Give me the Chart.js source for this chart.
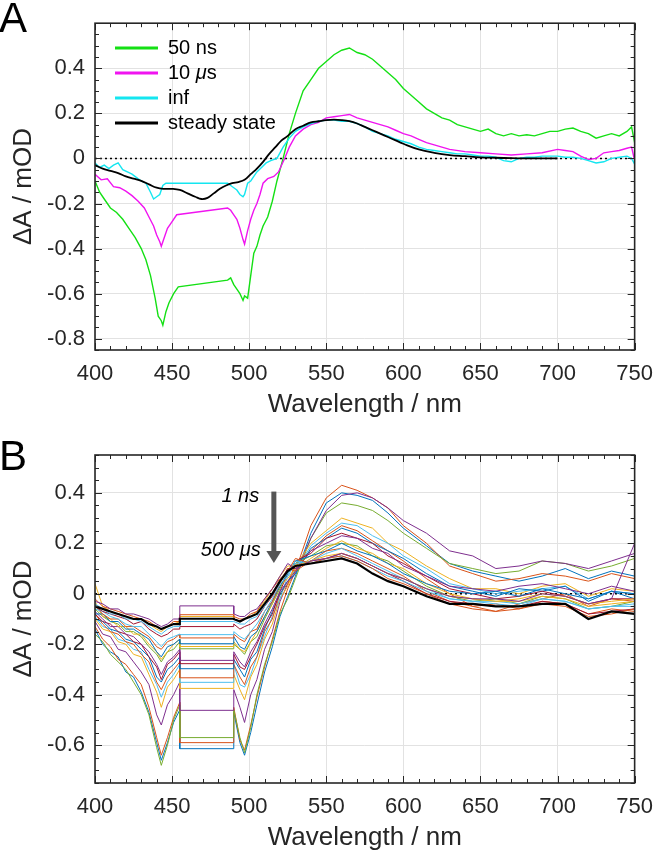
<!DOCTYPE html>
<html>
<head>
<meta charset="utf-8">
<script src="https://cdn.jsdelivr.net/npm/chart.js@4.4.1/dist/chart.umd.min.js"></script>
<style>
  html, body { margin: 0; padding: 0; background: #fff; }
  #wrap { position: relative; width: 664px; height: 853px; }
  canvas { position: absolute; left: 0; }
  #chartA { top: 0; }
  #chartB { top: 430px; }
</style>
</head>
<body>
<div id="wrap">
  <canvas id="chartA" width="664" height="430"></canvas>
  <canvas id="chartB" width="664" height="423"></canvas>
</div>
<script>
// ---- Panel A: transient spectra vs steady state ----
const wl50ns = [400, 403, 406, 410, 414, 418, 422, 426, 430, 433, 436, 439, 441, 443, 444, 446, 448, 451, 454, 486, 488, 490, 492, 494, 496, 497, 499, 501, 503, 505, 507, 509, 512, 515, 518, 522, 526, 530, 535, 540, 545, 550, 555, 560, 565, 570, 575, 580, 585, 590, 595, 600, 605, 610, 615, 620, 625, 630, 635, 640, 645, 650, 655, 660, 665, 670, 675, 680, 685, 690, 695, 700, 705, 710, 715, 720, 725, 730, 735, 740, 745, 748, 750];
const dA50ns = [-0.10, -0.15, -0.18, -0.22, -0.24, -0.27, -0.31, -0.35, -0.40, -0.45, -0.52, -0.62, -0.70, -0.72, -0.74, -0.68, -0.64, -0.60, -0.57, -0.54, -0.53, -0.56, -0.58, -0.60, -0.63, -0.61, -0.62, -0.52, -0.42, -0.39, -0.34, -0.30, -0.26, -0.19, -0.10, 0.00, 0.11, 0.20, 0.30, 0.35, 0.40, 0.43, 0.46, 0.48, 0.49, 0.47, 0.46, 0.44, 0.41, 0.38, 0.35, 0.31, 0.28, 0.25, 0.22, 0.20, 0.18, 0.17, 0.15, 0.14, 0.13, 0.12, 0.13, 0.11, 0.10, 0.11, 0.10, 0.105, 0.10, 0.11, 0.12, 0.12, 0.13, 0.135, 0.12, 0.11, 0.09, 0.10, 0.11, 0.10, 0.12, 0.14, 0.07];

const wl10us = [400, 404, 408, 412, 416, 420, 424, 428, 432, 435, 438, 440, 442, 443, 445, 447, 450, 453, 486, 488, 490, 492, 494, 496, 497, 499, 501, 503, 505, 507, 509, 512, 516, 519, 523, 526, 530, 535, 540, 545, 550, 555, 560, 565, 570, 575, 580, 585, 590, 595, 600, 605, 610, 615, 620, 625, 630, 640, 650, 660, 670, 680, 690, 700, 705, 710, 715, 720, 725, 730, 735, 740, 745, 748, 750];
const dA10us = [-0.07, -0.095, -0.09, -0.125, -0.13, -0.145, -0.165, -0.19, -0.22, -0.26, -0.30, -0.34, -0.37, -0.39, -0.35, -0.31, -0.28, -0.25, -0.22, -0.23, -0.25, -0.27, -0.31, -0.36, -0.38, -0.32, -0.27, -0.23, -0.20, -0.16, -0.11, -0.09, -0.08, -0.06, 0.0, 0.05, 0.10, 0.13, 0.15, 0.16, 0.18, 0.185, 0.19, 0.195, 0.18, 0.17, 0.16, 0.15, 0.14, 0.125, 0.11, 0.10, 0.085, 0.07, 0.06, 0.05, 0.04, 0.03, 0.025, 0.02, 0.015, 0.02, 0.025, 0.04, 0.035, 0.03, 0.01, -0.005, 0.0, 0.025, 0.03, 0.035, 0.045, 0.05, -0.01];

const wlInf = [400, 403, 406, 409, 412, 415, 418, 421, 424, 427, 430, 433, 436, 438, 440, 442, 444, 446, 486, 488, 490, 492, 494, 496, 497, 499, 501, 503, 505, 508, 511, 514, 518, 522, 526, 530, 535, 540, 545, 550, 555, 560, 565, 570, 575, 580, 585, 590, 595, 600, 605, 610, 615, 620, 625, 630, 635, 640, 645, 650, 655, 660, 665, 670, 675, 680, 685, 690, 695, 700, 705, 710, 715, 720, 725, 730, 735, 740, 745, 748, 750];
const dAInf = [-0.02, -0.04, -0.03, -0.045, -0.03, -0.02, -0.05, -0.06, -0.07, -0.085, -0.10, -0.11, -0.15, -0.18, -0.17, -0.16, -0.12, -0.11, -0.11, -0.12, -0.13, -0.14, -0.16, -0.17, -0.16, -0.11, -0.10, -0.08, -0.06, -0.04, -0.02, -0.01, 0.0, 0.05, 0.09, 0.12, 0.14, 0.155, 0.165, 0.17, 0.17, 0.165, 0.165, 0.155, 0.14, 0.12, 0.11, 0.10, 0.085, 0.075, 0.065, 0.05, 0.04, 0.035, 0.03, 0.025, 0.02, 0.02, 0.015, 0.01, 0.01, 0.005, -0.01, -0.015, 0.0, 0.005, 0.005, 0.01, 0.01, 0.01, 0.005, 0.005, 0.0, -0.01, -0.02, -0.015, 0.0, 0.005, 0.01, 0.0, -0.025];

const wlSteady = [400, 405, 410, 415, 420, 425, 430, 435, 440, 445, 450, 455, 460, 465, 469, 473, 477, 481, 485, 489, 493, 497, 501, 505, 509, 513, 517, 521, 525, 530, 535, 540, 545, 550, 555, 560, 565, 570, 575, 580, 585, 590, 595, 600, 610, 620, 630, 640, 650, 660, 670, 680, 690, 700];
const dASteady = [-0.03, -0.045, -0.055, -0.065, -0.08, -0.09, -0.10, -0.115, -0.13, -0.135, -0.135, -0.14, -0.155, -0.17, -0.18, -0.175, -0.155, -0.135, -0.12, -0.11, -0.105, -0.095, -0.07, -0.045, -0.015, 0.02, 0.05, 0.08, 0.10, 0.13, 0.145, 0.16, 0.165, 0.17, 0.172, 0.17, 0.165, 0.155, 0.14, 0.125, 0.11, 0.095, 0.08, 0.065, 0.04, 0.025, 0.015, 0.01, 0.005, 0.003, 0.001, 0.0, 0.0, 0.0];

// ---- Panel B: time series 1 ns -> 500 us ----
const wlB = [400, 405, 410, 415, 420, 425, 430, 435, 440, 443, 447, 451, 455, 455, 490, 490, 494, 497, 501, 505, 510, 515, 520, 525, 530, 540, 550, 560, 570, 580, 590, 600, 615, 630, 645, 660, 675, 690, 705, 720, 735, 750];
const trB01 = [-0.14, -0.20, -0.23, -0.25, -0.31, -0.33, -0.39, -0.47, -0.59, -0.66, -0.59, -0.51, -0.46, -0.614, -0.614, -0.47, -0.59, -0.64, -0.55, -0.44, -0.31, -0.21, -0.09, -0.01, 0.07, 0.24, 0.36, 0.40, 0.39, 0.37, 0.32, 0.26, 0.19, 0.12, 0.09, 0.07, 0.05, 0.07, 0.10, 0.06, 0.09, 0.07];
const trB02 = [-0.13, -0.18, -0.21, -0.26, -0.28, -0.32, -0.36, -0.45, -0.57, -0.64, -0.57, -0.49, -0.43, -0.59, -0.59, -0.45, -0.58, -0.62, -0.52, -0.41, -0.29, -0.18, -0.07, 0.02, 0.09, 0.27, 0.38, 0.43, 0.41, 0.38, 0.34, 0.27, 0.20, 0.11, 0.08, 0.05, 0.06, 0.08, 0.07, 0.05, 0.08, 0.06];
const trB03 = [-0.16, -0.19, -0.24, -0.27, -0.30, -0.35, -0.40, -0.48, -0.61, -0.68, -0.60, -0.50, -0.44, -0.57, -0.57, -0.46, -0.57, -0.63, -0.53, -0.40, -0.28, -0.19, -0.08, -0.02, 0.06, 0.22, 0.32, 0.36, 0.35, 0.33, 0.29, 0.24, 0.18, 0.12, 0.10, 0.08, 0.09, 0.13, 0.12, 0.09, 0.11, 0.14];
const trB04 = [-0.11, -0.16, -0.17, -0.22, -0.23, -0.27, -0.31, -0.36, -0.48, -0.52, -0.44, -0.40, -0.35, -0.462, -0.462, -0.38, -0.45, -0.51, -0.40, -0.34, -0.22, -0.15, -0.03, 0.04, 0.08, 0.22, 0.33, 0.39, 0.40, 0.38, 0.34, 0.29, 0.24, 0.17, 0.15, 0.10, 0.11, 0.13, 0.12, 0.10, 0.13, 0.16];
const trB05 = [-0.10, -0.14, -0.15, -0.19, -0.20, -0.24, -0.25, -0.32, -0.39, -0.45, -0.37, -0.34, -0.30, -0.375, -0.375, -0.32, -0.38, -0.42, -0.33, -0.28, -0.18, -0.12, -0.02, 0.03, 0.11, 0.20, 0.25, 0.30, 0.28, 0.26, 0.20, 0.17, 0.11, 0.06, 0.02, 0.02, 0.00, 0.03, 0.04, -0.01, 0.02, 0.01];
const trB06 = [-0.09, -0.13, -0.14, -0.18, -0.19, -0.22, -0.23, -0.30, -0.36, -0.41, -0.35, -0.32, -0.28, -0.351, -0.351, -0.28, -0.36, -0.37, -0.32, -0.25, -0.17, -0.09, -0.02, 0.07, 0.09, 0.19, 0.24, 0.28, 0.27, 0.23, 0.20, 0.15, 0.10, 0.04, 0.02, 0.00, 0.01, 0.02, 0.03, -0.02, 0.01, 0.00];
const trB07 = [-0.08, -0.12, -0.15, -0.16, -0.19, -0.20, -0.24, -0.27, -0.35, -0.38, -0.33, -0.30, -0.27, -0.333, -0.333, -0.28, -0.33, -0.36, -0.29, -0.25, -0.15, -0.10, 0.00, 0.04, 0.12, 0.17, 0.23, 0.27, 0.25, 0.21, 0.17, 0.13, 0.06, 0.00, -0.05, -0.07, -0.04, -0.02, 0.00, -0.05, -0.02, -0.03];
const trB08 = [-0.10, -0.11, -0.14, -0.15, -0.18, -0.19, -0.22, -0.25, -0.33, -0.35, -0.30, -0.28, -0.25, -0.297, -0.297, -0.26, -0.30, -0.33, -0.26, -0.23, -0.14, -0.07, 0.00, 0.05, 0.08, 0.18, 0.22, 0.26, 0.24, 0.20, 0.17, 0.14, 0.08, 0.03, 0.01, -0.01, 0.02, 0.01, 0.03, -0.03, 0.01, -0.02];
const trB09 = [-0.08, -0.11, -0.12, -0.15, -0.16, -0.19, -0.20, -0.25, -0.29, -0.34, -0.28, -0.26, -0.23, -0.277, -0.277, -0.24, -0.29, -0.30, -0.25, -0.20, -0.13, -0.08, 0.01, 0.08, 0.13, 0.16, 0.22, 0.24, 0.22, 0.20, 0.15, 0.12, 0.07, 0.02, 0.00, -0.02, -0.01, 0.01, -0.01, -0.04, -0.02, -0.02];
const trB10 = [-0.07, -0.10, -0.13, -0.13, -0.16, -0.17, -0.20, -0.23, -0.28, -0.32, -0.27, -0.25, -0.22, -0.264, -0.264, -0.23, -0.27, -0.29, -0.23, -0.19, -0.12, -0.06, 0.01, 0.05, 0.09, 0.17, 0.20, 0.23, 0.22, 0.18, 0.16, 0.11, 0.07, 0.03, 0.02, 0.01, 0.03, 0.04, 0.02, 0.00, 0.03, 0.01];
const trB11 = [-0.06, -0.09, -0.11, -0.12, -0.15, -0.15, -0.17, -0.21, -0.24, -0.27, -0.23, -0.22, -0.19, -0.218, -0.218, -0.20, -0.22, -0.24, -0.19, -0.17, -0.10, -0.04, 0.02, 0.09, 0.12, 0.15, 0.19, 0.20, 0.19, 0.15, 0.13, 0.09, 0.03, -0.01, -0.03, -0.02, -0.04, -0.01, -0.02, -0.06, -0.05, -0.03];
const trB12 = [-0.03, -0.09, -0.10, -0.13, -0.13, -0.16, -0.16, -0.20, -0.23, -0.26, -0.23, -0.20, -0.18, -0.209, -0.209, -0.19, -0.22, -0.23, -0.19, -0.15, -0.09, -0.04, 0.03, 0.06, 0.10, 0.14, 0.18, 0.21, 0.18, 0.16, 0.12, 0.10, 0.04, 0.00, -0.02, -0.03, -0.02, 0.00, -0.01, -0.04, -0.03, -0.02];
const trB13 = [-0.08, -0.08, -0.11, -0.11, -0.14, -0.14, -0.16, -0.18, -0.23, -0.25, -0.21, -0.20, -0.18, -0.198, -0.198, -0.17, -0.21, -0.22, -0.17, -0.15, -0.09, -0.03, 0.03, 0.08, 0.13, 0.15, 0.17, 0.20, 0.17, 0.15, 0.12, 0.08, 0.04, 0.01, 0.00, 0.01, -0.01, 0.02, 0.00, -0.02, 0.01, 0.00];
const trB14 = [-0.05, -0.08, -0.10, -0.10, -0.13, -0.13, -0.15, -0.17, -0.21, -0.22, -0.19, -0.18, -0.16, -0.175, -0.175, -0.16, -0.18, -0.19, -0.15, -0.14, -0.07, -0.03, 0.04, 0.10, 0.09, 0.13, 0.17, 0.18, 0.16, 0.13, 0.10, 0.07, 0.01, -0.03, -0.05, -0.04, -0.06, -0.03, -0.04, -0.08, -0.06, -0.07];
const trB15 = [-0.06, -0.07, -0.09, -0.10, -0.12, -0.13, -0.13, -0.16, -0.19, -0.21, -0.18, -0.17, -0.16, -0.162, -0.162, -0.15, -0.17, -0.18, -0.15, -0.12, -0.07, -0.02, 0.04, 0.07, 0.12, 0.13, 0.16, 0.18, 0.15, 0.12, 0.09, 0.06, 0.02, -0.02, -0.03, -0.03, -0.04, -0.02, -0.03, -0.06, -0.05, -0.04];
const trB16 = [-0.05, -0.07, -0.08, -0.09, -0.10, -0.12, -0.11, -0.14, -0.16, -0.17, -0.16, -0.14, -0.14, -0.13, -0.13, -0.12, -0.14, -0.13, -0.12, -0.10, -0.05, -0.01, 0.05, 0.10, 0.10, 0.13, 0.14, 0.16, 0.14, 0.11, 0.08, 0.05, 0.00, -0.03, -0.04, -0.05, -0.05, -0.03, -0.04, -0.08, -0.07, -0.06];
const trB17 = [-0.04, -0.06, -0.08, -0.08, -0.10, -0.10, -0.11, -0.13, -0.15, -0.16, -0.14, -0.13, -0.13, -0.11, -0.11, -0.11, -0.12, -0.12, -0.10, -0.09, -0.05, 0.00, 0.05, 0.08, 0.13, 0.12, 0.14, 0.15, 0.13, 0.10, 0.07, 0.05, 0.01, -0.02, -0.03, -0.04, -0.05, -0.02, -0.03, -0.06, -0.05, -0.05];
const trB18 = [0.04, -0.05, -0.07, -0.08, -0.09, -0.10, -0.10, -0.12, -0.14, -0.15, -0.13, -0.12, -0.11, -0.09, -0.09, -0.10, -0.11, -0.10, -0.09, -0.07, -0.03, 0.02, 0.07, 0.11, 0.11, 0.13, 0.15, 0.16, 0.14, 0.11, 0.08, 0.06, 0.02, -0.01, -0.02, -0.03, -0.03, -0.01, -0.02, -0.05, -0.04, -0.03];
const trB19 = [-0.02, -0.05, -0.06, -0.07, -0.08, -0.09, -0.10, -0.11, -0.13, -0.14, -0.13, -0.11, -0.11, -0.083, -0.083, -0.09, -0.10, -0.10, -0.08, -0.07, -0.02, 0.02, 0.06, 0.09, 0.14, 0.12, 0.14, 0.15, 0.13, 0.10, 0.06, 0.04, 0.00, -0.04, -0.06, -0.07, -0.06, -0.04, -0.05, -0.09, -0.08, -0.06];
const trB20 = [-0.03, -0.04, -0.06, -0.06, -0.08, -0.08, -0.09, -0.10, -0.12, -0.13, -0.12, -0.10, -0.10, -0.048, -0.048, -0.08, -0.09, -0.09, -0.07, -0.06, -0.02, 0.02, 0.07, 0.12, 0.10, 0.13, 0.14, 0.16, 0.14, 0.11, 0.08, 0.06, 0.02, -0.01, -0.02, -0.02, -0.03, 0.00, -0.01, -0.04, -0.02, 0.20];
const trB500us = [-0.05, -0.06, -0.07, -0.08, -0.09, -0.10, -0.10, -0.12, -0.13, -0.14, -0.13, -0.12, -0.12, -0.099, -0.099, -0.10, -0.11, -0.10, -0.09, -0.08, -0.04, 0.00, 0.05, 0.09, 0.11, 0.12, 0.13, 0.14, 0.12, 0.08, 0.05, 0.03, -0.01, -0.04, -0.04, -0.05, -0.05, -0.04, -0.04, -0.10, -0.07, -0.08];

const xTicks = [400, 450, 500, 550, 600, 650, 700, 750];
const yTicksA = [-0.8, -0.6, -0.4, -0.2, 0, 0.2, 0.4];
const yTicksB = [-0.6, -0.4, -0.2, 0, 0.2, 0.4];

// matlab default line colours, cycled over the B traces
const colorsB = ['#0072BD', '#D95319', '#77AC30', '#7E2F8E', '#EDB120', '#4DBEEE', '#D95319', '#0072BD', '#A2142F', '#7E2F8E',
                 '#77AC30', '#EDB120', '#0072BD', '#D95319', '#4DBEEE', '#A2142F', '#4DBEEE', '#EDB120', '#D95319', '#7E2F8E'];

const FONT = '"Liberation Sans", Arial, Helvetica, sans-serif';
Chart.defaults.font.family = FONT;
Chart.defaults.color = '#262626';

const pts = (xs, ys) => xs.map((x, i) => ({x: x, y: ys[i]}));

// text with an italic mu
function drawMixed(ctx, text, x, y, size, allItalic) {
  let cx = x;
  for (const part of text.split(/(μ)/)) {
    if (!part) continue;
    const it = allItalic || part === 'μ';
    ctx.font = (it ? 'italic ' : '') + size + 'px ' + FONT;
    ctx.fillText(part, cx, y);
    cx += ctx.measureText(part).width;
  }
}
function mixedWidth(ctx, text, size, allItalic) {
  let w = 0;
  for (const part of text.split(/(μ)/)) {
    if (!part) continue;
    ctx.font = ((allItalic || part === 'μ') ? 'italic ' : '') + size + 'px ' + FONT;
    w += ctx.measureText(part).width;
  }
  return w;
}

// box with inward ticks, like matlab "box on"
const frame = {
  id: 'frame',
  afterDatasetsDraw(chart) {
    const {ctx, chartArea: a, scales: {x, y}} = chart;
    ctx.save();
    ctx.strokeStyle = '#262626';
    ctx.lineWidth = 1;
    ctx.beginPath();
    for (let v = 400; v <= 750; v += 10) {
      const px = Math.round(x.getPixelForValue(v)) + 0.5;
      const len = v % 50 === 0 ? 7 : 4;
      ctx.moveTo(px, a.bottom); ctx.lineTo(px, a.bottom - len);
      ctx.moveTo(px, a.top); ctx.lineTo(px, a.top + len);
    }
    const k0 = Math.ceil(y.min / 0.05 - 1e-6), k1 = Math.floor(y.max / 0.05 + 1e-6);
    for (let k = k0; k <= k1; k++) {
      const py = Math.round(y.getPixelForValue(k * 0.05)) + 0.5;
      const len = k % 4 === 0 ? 7 : 4;
      ctx.moveTo(a.left, py); ctx.lineTo(a.left + len, py);
      ctx.moveTo(a.right, py); ctx.lineTo(a.right - len, py);
    }
    ctx.stroke();
    ctx.lineWidth = 1.6;
    ctx.strokeRect(a.left, a.top, a.right - a.left, a.bottom - a.top);
    ctx.restore();
  }
};

function panelLabel(letter, baseY) {
  return {
    id: 'panel' + letter,
    afterDraw(chart) {
      const ctx = chart.ctx;
      ctx.save();
      ctx.fillStyle = '#000';
      ctx.font = '42px ' + FONT;
      ctx.textBaseline = 'alphabetic';
      ctx.fillText(letter, -1, baseY);
      ctx.restore();
    }
  };
}

const legendA = {
  id: 'legendA',
  afterDraw(chart) {
    const ctx = chart.ctx;
    const items = chart.data.datasets.filter(d => d.label);
    ctx.save();
    ctx.textBaseline = 'middle';
    ctx.fillStyle = '#000';
    items.forEach((d, i) => {
      const yy = 48 + i * 25;
      ctx.strokeStyle = d.borderColor;
      ctx.lineWidth = 3;
      ctx.beginPath(); ctx.moveTo(115, yy); ctx.lineTo(158, yy); ctx.stroke();
      drawMixed(ctx, d.label, 168, yy, 20, false);
    });
    ctx.restore();
  }
};

const arrowB = {
  id: 'arrowB',
  afterDraw(chart) {
    const {ctx, scales: {x, y}} = chart;
    const ax = x.getPixelForValue(516);
    const y0 = y.getPixelForValue(0.405), y1 = y.getPixelForValue(0.122);
    ctx.save();
    ctx.fillStyle = '#555';
    ctx.fillRect(ax - 2.5, y0, 5, y1 - y0 - 11);
    ctx.beginPath();
    ctx.moveTo(ax - 7.5, y1 - 12); ctx.lineTo(ax + 7.5, y1 - 12); ctx.lineTo(ax, y1);
    ctx.closePath(); ctx.fill();
    ctx.fillStyle = '#000';
    ctx.textBaseline = 'middle';
    const t1 = '1 ns', t2 = '500 μs';
    const r1 = x.getPixelForValue(506.5), r2 = x.getPixelForValue(507.5);
    drawMixed(ctx, t1, r1 - mixedWidth(ctx, t1, 20, true), y.getPixelForValue(0.385), 20, true);
    drawMixed(ctx, t2, r2 - mixedWidth(ctx, t2, 20, true), y.getPixelForValue(0.17), 20, true);
    ctx.restore();
  }
};

function scalesFor(yMin, yMax, yTicks, xAxisHeight, xTitlePad) {
  return {
    x: {
      type: 'linear', min: 400, max: 750,
      afterBuildTicks: s => { s.ticks = xTicks.map(v => ({value: v})); },
      afterFit: s => { s.height = xAxisHeight; },
      ticks: { autoSkip: false, maxRotation: 0, padding: 11, font: {size: 22}, callback: v => String(v) },
      grid: { color: '#e2e2e2', lineWidth: 1, drawTicks: false },
      border: { display: false },
      title: { display: true, text: 'Wavelength / nm', font: {size: 26}, padding: {top: 0, bottom: xTitlePad} }
    },
    y: {
      type: 'linear', min: yMin, max: yMax,
      afterBuildTicks: s => { s.ticks = yTicks.map(v => ({value: v})); },
      afterFit: s => { s.width = 95; },
      ticks: { autoSkip: false, padding: 10, font: {size: 22}, callback: v => v === 0 ? '0' : v.toFixed(1) },
      grid: { color: '#e2e2e2', lineWidth: 1, drawTicks: false },
      border: { display: false },
      title: { display: true, text: 'ΔA / mOD', font: {size: 26}, padding: {top: 8, bottom: 0} }
    }
  };
}

const zeroLine = (o) => ({
  data: [{x: 400, y: 0}, {x: 750, y: 0}],
  borderColor: '#000', borderWidth: 1.5, borderDash: [2, 3], pointRadius: 0, order: o
});

const baseOpts = {
  responsive: false,
  animation: false,
  events: [],
  plugins: { legend: { display: false }, tooltip: { enabled: false } },
  elements: { line: { tension: 0 }, point: { radius: 0 } }
};

new Chart(document.getElementById('chartA'), {
  type: 'line',
  data: {
    datasets: [
      zeroLine(100),
      { label: '50 ns', data: pts(wl50ns, dA50ns), borderColor: '#14e014', borderWidth: 1.4, order: 4 },
      { label: '10 μs', data: pts(wl10us, dA10us), borderColor: '#f014f0', borderWidth: 1.4, order: 3 },
      { label: 'inf', data: pts(wlInf, dAInf), borderColor: '#14e6f0', borderWidth: 1.4, order: 2 },
      { label: 'steady state', data: pts(wlSteady, dASteady), borderColor: '#000', borderWidth: 1.8, tension: 0.4, order: 1 }
    ]
  },
  options: Object.assign({}, baseOpts, {
    layout: { padding: { left: 0, top: 22, right: 19, bottom: 0 } },
    scales: scalesFor(-0.85, 0.6, yTicksA, 80, 10)
  }),
  plugins: [frame, legendA, panelLabel('A', 32)]
});

const seriesB = [trB01, trB02, trB03, trB04, trB05, trB06, trB07, trB08, trB09, trB10,
                 trB11, trB12, trB13, trB14, trB15, trB16, trB17, trB18, trB19, trB20];
const dsB = seriesB.map((s, i) => ({
  data: pts(wlB, s), borderColor: colorsB[i], borderWidth: 1, order: 100 - i
}));
dsB.unshift(zeroLine(200));
dsB.push({ data: pts(wlB, trB500us), borderColor: '#000', borderWidth: 2.2, order: 0 });

new Chart(document.getElementById('chartB'), {
  type: 'line',
  data: { datasets: dsB },
  options: Object.assign({}, baseOpts, {
    layout: { padding: { left: 0, top: 25, right: 19, bottom: 0 } },
    scales: scalesFor(-0.75, 0.55, yTicksB, 70, 0)
  }),
  plugins: [frame, arrowB, panelLabel('B', 40)]
});
</script>
</body>
</html>
